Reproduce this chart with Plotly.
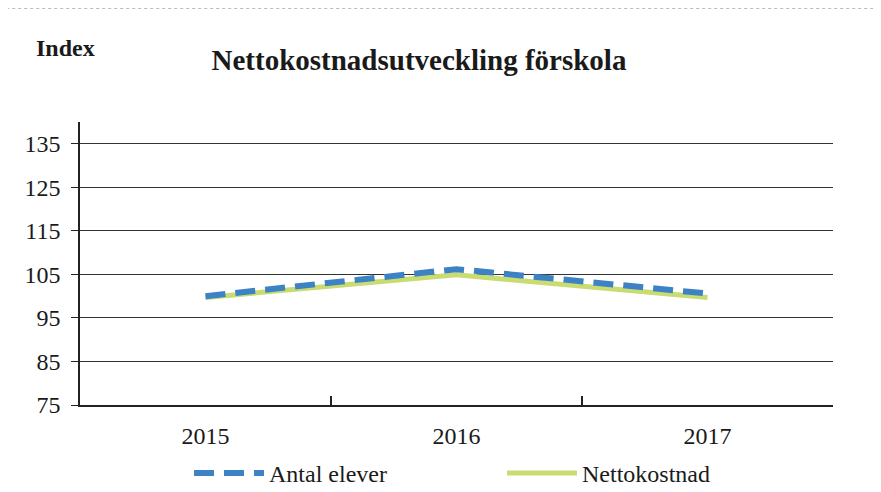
import plotly.graph_objects as go

years = ["2015", "2016", "2017"]
antal_elever = [100.0, 106.2, 100.6]
nettokostnad = [99.7, 104.9, 99.7]
y_ticks = [75, 85, 95, 105, 115, 125, 135]

SERIF = "Liberation Serif"

fig = go.Figure()
fig.add_trace(go.Scatter(
    x=years, y=nettokostnad, mode="lines", name="Nettokostnad",
    line=dict(color="#c9dc72", width=5), legendrank=2,
))
fig.add_trace(go.Scatter(
    x=years, y=antal_elever, mode="lines", name="Antal elever",
    line=dict(color="#3d82c4", width=6, dash="20px,10px"), legendrank=1,
))

fig.update_layout(
    width=881, height=500,
    margin=dict(l=72, r=56, t=114, b=101),
    paper_bgcolor="white", plot_bgcolor="white",
    font=dict(family=SERIF, size=24, color="#1a1a1a"),
    title=dict(text="<b>Nettokostnadsutveckling förskola</b>",
               x=0.4665, xanchor="center", y=0.896, yanchor="middle",
               font=dict(family=SERIF, size=29, color="#1a1a1a")),
    showlegend=True,
    legend=dict(orientation="h", x=0.1448, xanchor="left", y=-0.242, yanchor="middle",
                font=dict(family=SERIF, size=24, color="#1a1a1a"),
                itemwidth=70, entrywidth=228, entrywidthmode="pixels",
                bgcolor="rgba(0,0,0,0)"),
    xaxis=dict(type="category", tickson="boundaries", ticks="inside", ticklen=9,
               tickcolor="#222", tickwidth=1.5, showline=True, linecolor="#222",
               linewidth=1.5, showgrid=False, ticklabelstandoff=8,
               tickfont=dict(family=SERIF, size=24, color="#1a1a1a"),
               range=[-0.5, 2.5]),
    yaxis=dict(range=[75, 140], tickvals=y_ticks, ticks="outside", ticklen=7,
               tickcolor="#222", showline=True, linecolor="#222", linewidth=1.5,
               showgrid=True, gridcolor="#333", gridwidth=1.2, zeroline=False,
               tickfont=dict(family=SERIF, size=24, color="#1a1a1a"),
               ticklabelstandoff=6),
    annotations=[dict(text="<b>Index</b>", xref="paper", yref="paper",
                      x=-0.061, y=1.26, xanchor="left", yanchor="middle",
                      showarrow=False, font=dict(family=SERIF, size=24, color="#1a1a1a"))],
    shapes=[dict(type="line", xref="paper", yref="paper", x0=-0.106, x1=1.064,
                 y0=1.404, y1=1.404, line=dict(color="#777", width=1.5, dash="dot"))],
)

fig.write_html("out.html")
